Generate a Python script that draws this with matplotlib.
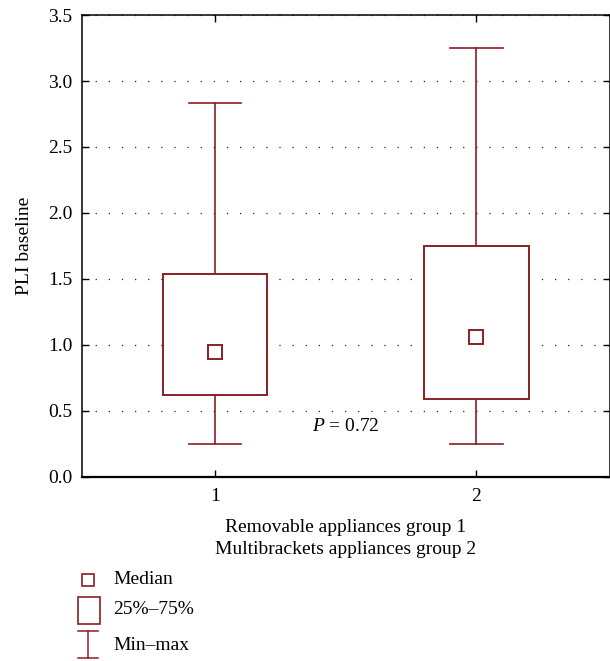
import matplotlib
matplotlib.use('Agg')
import matplotlib.pyplot as plt
from matplotlib.lines import Line2D
import matplotlib.patches as patches

# ── data ───────────────────────────────────────────────────────────────────
groups = [1, 2]
q1 = [0.62, 0.59]
q3 = [1.54, 1.75]
medians = [0.95, 1.06]
mins = [0.25, 0.25]
maxs = [2.83, 3.25]
p_text = "0.72"

RED = "#8b1f24"
FONT = "Liberation Serif"
FS = 14
plt.rcParams['font.family'] = FONT
plt.rcParams['mathtext.fontset'] = 'custom'
plt.rcParams['mathtext.it'] = 'Liberation Serif:italic'
plt.rcParams['mathtext.rm'] = 'Liberation Serif'

fig = plt.figure(figsize=(6.10, 6.61), dpi=100)
ax = fig.add_axes([0.1344, 0.2784, 0.865, 0.6989])

box_w = 0.40
cap_w = 0.20
for g, lo, hi, md, mn, mx in zip(groups, q1, q3, medians, mins, maxs):
    # whiskers
    ax.plot([g, g], [mn, lo], color=RED, lw=1.2, zorder=3)
    ax.plot([g, g], [hi, mx], color=RED, lw=1.2, zorder=3)
    ax.plot([g - cap_w / 2, g + cap_w / 2], [mn, mn], color=RED, lw=1.2, zorder=3)
    ax.plot([g - cap_w / 2, g + cap_w / 2], [mx, mx], color=RED, lw=1.2, zorder=3)
    # box
    ax.add_patch(patches.Rectangle((g - box_w / 2, lo), box_w, hi - lo,
                                   facecolor="white", edgecolor=RED, lw=1.4, zorder=3))
    # median
    ax.plot([g], [md], marker='s', ms=9.5, mfc="white", mec=RED, mew=1.4,
            ls='none', zorder=4)

ax.text(1.5, 0.38, r"$P$ = " + p_text, ha='center', va='center',
        fontsize=FS, family=FONT)

ax.set_xlim(0.49, 2.51)
ax.set_ylim(0, 3.5)
ax.set_xticks(groups)
ax.set_xticklabels([str(g) for g in groups])
ax.set_yticks([0, 0.5, 1.0, 1.5, 2.0, 2.5, 3.0, 3.5])
ax.set_yticklabels(["0.0", "0.5", "1.0", "1.5", "2.0", "2.5", "3.0", "3.5"])
ax.tick_params(axis='both', direction='in', labelsize=FS, length=5, width=1.0,
               top=True, right=True)
ax.tick_params(axis='y', pad=7)
ax.tick_params(axis='x', pad=8)
ax.yaxis.grid(True, color="#222222", lw=0.9, linestyle=(0, (1, 9.5)), zorder=1)
ax.set_axisbelow(True)
for s in ['left', 'top', 'right']:
    ax.spines[s].set_linewidth(1.1)
ax.spines['bottom'].set_linewidth(1.6)

ax.set_ylabel("PLI baseline", fontsize=FS, labelpad=11)
ax.set_xlabel("Removable appliances group 1\nMultibrackets appliances group 2",
              fontsize=FS, labelpad=10, linespacing=1.35)

# ── legend key (figure pixels) ─────────────────────────────────────────────
W, H = 610, 661
def fx(px): return px / W
def fy(py): return 1 - py / H

fig.add_artist(Line2D([fx(88)], [fy(580)], marker='s', ms=8, mfc='white', mec=RED,
                      mew=1.2, ls='none', transform=fig.transFigure))
fig.add_artist(patches.Rectangle((fx(78), fy(624)), fx(100) - fx(78), fy(597) - fy(624),
                                 facecolor='white', edgecolor=RED, lw=1.2,
                                 transform=fig.transFigure))
fig.add_artist(Line2D([fx(88), fx(88)], [fy(631), fy(658)], color=RED, lw=1.1,
                      transform=fig.transFigure))
fig.add_artist(Line2D([fx(78), fx(98)], [fy(631), fy(631)], color=RED, lw=1.1,
                      transform=fig.transFigure))
fig.add_artist(Line2D([fx(78), fx(98)], [fy(658), fy(658)], color=RED, lw=1.1,
                      transform=fig.transFigure))
for txt, py in [("Median", 580), ("25%–75%", 609), ("Min–max", 645)]:
    fig.text(fx(113), fy(py), txt, ha='left', va='center', fontsize=FS)

fig.savefig("out.png", dpi=100, facecolor="white")
